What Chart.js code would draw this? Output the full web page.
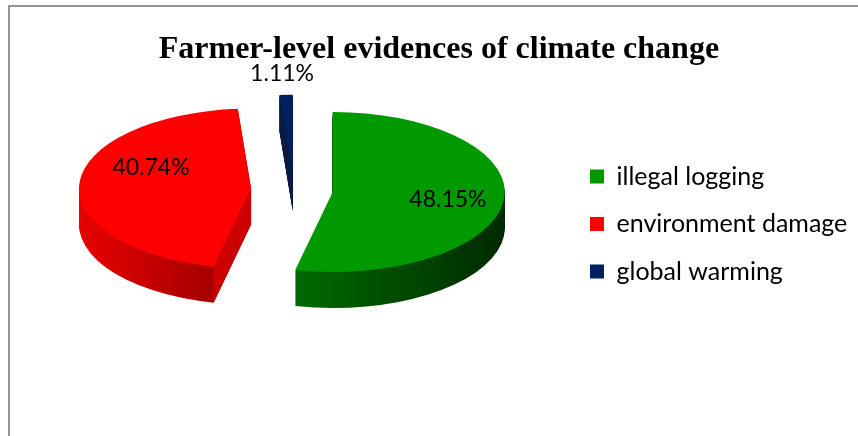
<!DOCTYPE html>
<html><head><meta charset="utf-8">
<script src="https://cdn.jsdelivr.net/npm/chart.js@4.4.1/dist/chart.umd.min.js"></script>
<style>
html,body{margin:0;padding:0;background:#fff;overflow:hidden;}
#wrap{position:relative;width:858px;height:436px;}
#frame{position:absolute;left:8px;top:5px;width:900px;height:500px;border-top:2px solid #969696;border-left:2px solid #969696;pointer-events:none;}
canvas{position:absolute;left:0;top:0;}
</style></head><body>
<div id="wrap"><canvas id="c" width="858" height="436"></canvas><div id="frame"></div></div>
<script>
// ---- data ----
const titleText = 'Farmer-level evidences of climate change';
const categories = ['illegal logging', 'environment damage', 'global warming'];
const percentages = [48.15, 40.74, 1.11];

// ---- style ----
const topColors = ['#009900', '#ff0000', '#002060'];
const sideStops = [
  [[0, '#008c00'], [0.45, '#006400'], [1, '#002a00']],
  [[0, '#e80000'], [0.37, '#a80000'], [1, '#7a0000']],
  [[0, '#00205a'], [1, '#000c28']]
];
const cutColors = ['#003000', '#cc0000', '#0a1a40'];
const explode = [39, 43, 33];          // pixels each slice is pulled out
const labelFrac = [0.676, 0.639, 1.261];
const labelAngleAdj = [1.7, 20.3, -0.6];
const RADIUS = 172, TILT = 80 / 172, DEPTH = 36;
const LEGEND_FONT = 25, LEGEND_PAD = 22.5, BOX = 14;

function sliceGeom(arc, i) {
  const p = arc.getProps(['x', 'y', 'startAngle', 'endAngle', 'outerRadius']);
  const mid = (p.startAngle + p.endAngle) / 2;
  const dx = Math.cos(mid) * explode[i], dy = Math.sin(mid) * explode[i];
  return {cx: p.x + dx, cy: p.y + dy, dx, dy, cy0: p.y,
          s: p.startAngle, e: p.endAngle, mid, R: p.outerRadius};
}

const pie3d = {
  id: 'pie3d',
  beforeDatasetsDraw(chart) {
    const ctx = chart.ctx;
    const meta = chart.getDatasetMeta(0);
    meta.data.forEach((arc, i) => {
      const g = sliceGeom(arc, i);
      const grad = ctx.createLinearGradient(g.cx - g.R, 0, g.cx + g.R, 0);
      sideStops[i].forEach(([t, c]) => grad.addColorStop(t, c));
      for (let d = DEPTH; d >= 1; d--) {
        ctx.save();
        ctx.translate(0, d + g.cy0);
        ctx.scale(1, TILT);
        ctx.translate(0, -g.cy0);
        ctx.beginPath();
        ctx.moveTo(g.cx, g.cy);
        ctx.arc(g.cx, g.cy, g.R, g.s, g.e);
        ctx.closePath();
        ctx.fillStyle = grad;
        ctx.fill();
        ctx.restore();
      }
      const sy = y => g.cy0 + (y - g.cy0) * TILT;
      const faces = [];
      if (-Math.cos(g.s) > 0.001) faces.push(g.s);
      if (Math.cos(g.e) > 0.001) faces.push(g.e);
      faces.forEach(th => {
        const ax = g.cx, ay = sy(g.cy);
        const bx = g.cx + g.R * Math.cos(th), by = sy(g.cy + g.R * Math.sin(th));
        ctx.beginPath();
        ctx.moveTo(ax, ay); ctx.lineTo(bx, by); ctx.lineTo(bx, by + DEPTH); ctx.lineTo(ax, ay + DEPTH);
        ctx.closePath();
        ctx.fillStyle = cutColors[i];
        ctx.fill();
      });
    });
  },
  beforeDatasetDraw(chart) {
    // draw the library's arc elements as the tilted top faces, each pulled out of the centre
    const ctx = chart.ctx;
    const meta = chart.getDatasetMeta(0);
    meta.data.forEach((arc, i) => {
      const g = sliceGeom(arc, i);
      ctx.save();
      ctx.translate(0, g.cy0);
      ctx.scale(1, TILT);
      ctx.translate(0, -g.cy0);
      ctx.translate(g.dx, g.dy);
      arc.draw(ctx);
      ctx.restore();
    });
    return false;
  },
  afterDatasetsDraw(chart) {
    const ctx = chart.ctx;
    const meta = chart.getDatasetMeta(0);
    ctx.save();
    ctx.font = '23px Lato';
    ctx.fillStyle = '#000';
    ctx.textAlign = 'center';
    ctx.textBaseline = 'middle';
    meta.data.forEach((arc, i) => {
      const g = sliceGeom(arc, i);
      const a = g.mid + labelAngleAdj[i] * Math.PI / 180;
      const r = g.R * labelFrac[i];
      const x = g.cx + Math.cos(a) * r;
      const y = g.cy0 + (g.cy + Math.sin(a) * r - g.cy0) * TILT;
      ctx.fillText(percentages[i].toFixed(2) + '%', x, y);
    });
    ctx.restore();
  }
};

// legend width from text metrics so that the legend column sits where the reference has it
const mc = document.createElement('canvas').getContext('2d');
mc.font = LEGEND_FONT + 'px Lato';
const tw = Math.max(...categories.map(t => mc.measureText(t).width));
const legendLeft = 567.5;
const padLeft = 2 * 294 - legendLeft;
const padRight = 858 - (legendLeft + LEGEND_PAD + BOX + LEGEND_FONT / 2 + tw + 10);

new Chart(document.getElementById('c'), {
  type: 'pie',
  data: {
    labels: categories,
    datasets: [{
      data: percentages,
      backgroundColor: topColors,
      borderWidth: 0,
      clip: false
    }]
  },
  options: {
    responsive: false,
    animation: false,
    events: [],
    radius: RADIUS,
    layout: {padding: {left: padLeft, right: padRight, top: 0, bottom: 129.5}},
    plugins: {
      title: {
        display: true,
        text: titleText,
        color: '#000',
        font: {family: 'Liberation Serif', size: 32, weight: 'bold', lineHeight: 1.2},
        padding: {top: 31, bottom: 4.1}
      },
      legend: {
        position: 'right',
        align: 'end',
        labels: {
          color: '#000',
          font: {family: 'Lato', size: LEGEND_FONT},
          boxWidth: BOX,
          boxHeight: BOX,
          padding: LEGEND_PAD
        }
      },
      tooltip: {enabled: false}
    }
  },
  plugins: [pie3d]
});
</script>
</body></html>
